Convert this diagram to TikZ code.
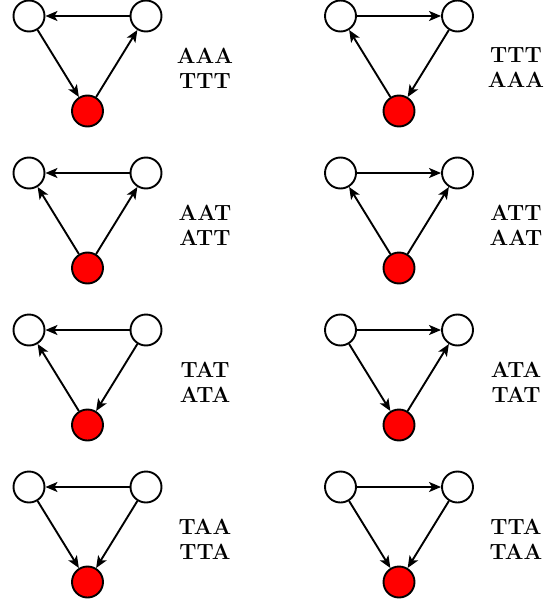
\documentclass[tikz,border=0pt]{standalone}
\usetikzlibrary{arrows.meta}

\begin{document}
\begin{tikzpicture}[x=1pt,y=-1pt,
    v/.style={circle,draw,line width=1.9pt,fill=white,minimum size=31pt,inner sep=0pt},
    r/.style={v,fill=red},
    lab/.style={align=center,font=\fontsize{22}{25}\selectfont\bfseries},
    arr/.style={-{Stealth[length=12pt,width=10pt,inset=3pt]},line width=1.9pt}]
\useasboundingbox (0,0) rectangle (552,602);

% row 1
\draw 	(29,16) node[v](a1){}   (146,16) node[v](a2){}
  		(87.5,111) node[r](a3){};
\path[arr]
     (a2) edge (a1)
     (a1) edge (a3)
     (a3) edge (a2);
\node[lab] (la) at (205,68) {AAA\\TTT};

\draw 	(340.5,16) node[v](b1){}   (457.5,16) node[v](b2){}
  		(399,111) node[r](b3){};
\path[arr]
     (b1) edge (b2)
     (b2) edge (b3)
     (b3) edge (b1);
\node[lab] (lb) at (516,68) {TTT\\AAA};

% row 2
\draw 	(29,173) node[v](c1){}   (146,173) node[v](c2){}
  		(87.5,268) node[r](c3){};
\path[arr]
     (c2) edge (c1)
     (c3) edge (c1)
     (c3) edge (c2);
\node[lab] (lc) at (205,225) {AAT\\ATT};

\draw 	(340.5,173) node[v](d1){}   (457.5,173) node[v](d2){}
  		(399,268) node[r](d3){};
\path[arr]
     (d1) edge (d2)
     (d3) edge (d1)
     (d3) edge (d2);
\node[lab] (ld) at (516,225) {ATT\\AAT};

% row 3
\draw 	(29,330) node[v](e1){}   (146,330) node[v](e2){}
  		(87.5,425) node[r](e3){};
\path[arr]
     (e2) edge (e1)
     (e3) edge (e1)
     (e2) edge (e3);
\node[lab] (le) at (205,382) {TAT\\ATA};

\draw 	(340.5,330) node[v](f1){}   (457.5,330) node[v](f2){}
  		(399,425) node[r](f3){};
\path[arr]
     (f1) edge (f2)
     (f1) edge (f3)
     (f3) edge (f2);
\node[lab] (lf) at (516,382) {ATA\\TAT};

% row 4
\draw 	(29,487) node[v](g1){}   (146,487) node[v](g2){}
  		(87.5,582) node[r](g3){};
\path[arr]
     (g2) edge (g1)
     (g1) edge (g3)
     (g2) edge (g3);
\node[lab] (lg) at (205,539) {TAA\\TTA};

\draw 	(340.5,487) node[v](h1){}   (457.5,487) node[v](h2){}
  		(399,582) node[r](h3){};
\path[arr]
     (h1) edge (h2)
     (h1) edge (h3)
     (h2) edge (h3);
\node[lab] (lh) at (516,539) {TTA\\TAA};
\end{tikzpicture}
\end{document}
